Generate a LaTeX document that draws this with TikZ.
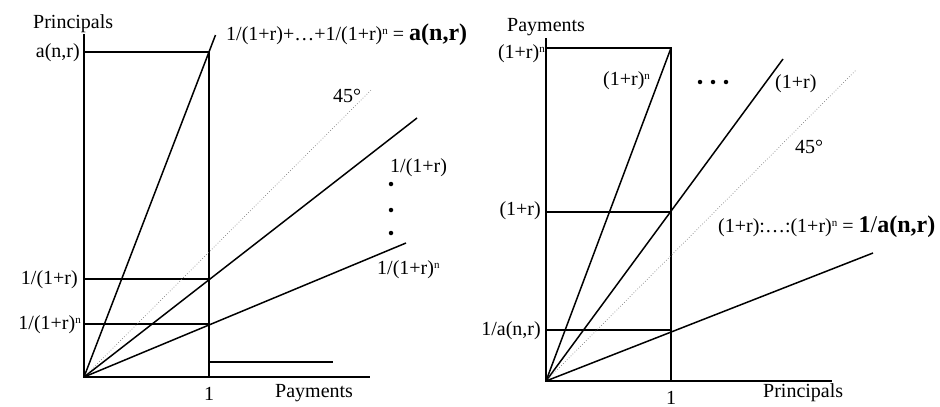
\documentclass[tikz,border=0pt]{standalone}
\usepackage{fontspec}
\setmainfont{Liberation Serif}
\newcommand{\nup}{\raisebox{0.55ex}{\fontsize{11}{11}\selectfont n}}
\newcommand{\bigb}[1]{{\fontsize{24}{26}\selectfont\bfseries #1}}
\tikzset{
  axis/.style={line width=1.7pt, black},
  ray/.style={line width=1.5pt, black},
  guide/.style={line width=1.5pt, black},
  diag/.style={line width=0.7pt, gray, dotted},
  lbl/.style={inner sep=0pt, font=\fontsize{20}{24}\selectfont},
  dotmark/.style={circle, fill=black, inner sep=0pt, minimum size=4.5pt}
}
\begin{document}
\begin{tikzpicture}[x=1pt,y=-1pt]
\useasboundingbox (0,0) rectangle (940,407);
% ---------- left diagram ----------
\coordinate (LO) at (84,377);
\coordinate (LYt) at (84,34);
\coordinate (LXr) at (370,377);
\coordinate (LA) at (209,52);
\coordinate (LAy) at (84,52);
\coordinate (L1) at (209,377);
\coordinate (LR) at (209,279);
\coordinate (LRy) at (84,279);
\coordinate (LN) at (209,324);
\coordinate (LNy) at (84,324);
\coordinate (LSteep) at (215.5,35);
\coordinate (L45) at (372,89);
\coordinate (LRend) at (417,118);
\coordinate (LNend) at (406,243);
\coordinate (LSa) at (208,362);
\coordinate (LSb) at (333,362);
\draw[axis] (LYt) -- (LO) -- (LXr);
\draw[guide] (LAy) -- (LA) -- (L1);
\draw[guide] (LRy) -- (LR);
\draw[guide] (LNy) -- (LN);
\draw[guide] (LSa) -- (LSb);
\draw[ray] (LO) -- (LSteep);
\draw[diag] (LO) -- (L45);
\draw[ray] (LO) -- (LRend);
\draw[ray] (LO) -- (LNend);
\node[lbl, anchor=base west] (lprin) at (33,28) {Principals};
\node[lbl, anchor=base east] (lay) at (80,57) {a(n,r)};
\node[lbl, anchor=base west] (lsum) at (226,40) {1/(1+r)+…+1/(1+r)\nup{} = \bigb{a(n,r)}};
\node[lbl, anchor=base west] (l45) at (333,102) {45°};
\node[lbl, anchor=base west] (lr) at (390,172) {1/(1+r)};
\node[dotmark] (ld1) at (391,184) {};
\node[dotmark] (ld2) at (391,210) {};
\node[dotmark] (ld3) at (391,233) {};
\node[lbl, anchor=base west] (lrn) at (377,274) {1/(1+r)\nup};
\node[lbl, anchor=base east] (lry) at (78,284) {1/(1+r)};
\node[lbl, anchor=base east] (lrny) at (81,329) {1/(1+r)\nup};
\node[lbl, anchor=base] (lone) at (209,400) {1};
\node[lbl, anchor=base west] (lpay) at (275,397) {Payments};
% ---------- right diagram ----------
\coordinate (RO) at (546,381);
\coordinate (RYt) at (546,38);
\coordinate (RXr) at (832,381);
\coordinate (RA) at (671,48);
\coordinate (RAy) at (546,48);
\coordinate (R1) at (671,381);
\coordinate (RR) at (671,212);
\coordinate (RRy) at (546,212);
\coordinate (RN) at (671,330);
\coordinate (RNy) at (546,330);
\coordinate (RRend) at (783,59);
\coordinate (R45) at (856,70);
\coordinate (RNend) at (873,253);
\draw[axis] (RYt) -- (RO) -- (RXr);
\draw[guide] (RAy) -- (RA) -- (R1);
\draw[guide] (RRy) -- (RR);
\draw[guide] (RNy) -- (RN);
\draw[ray] (RO) -- (RA);
\draw[ray] (RO) -- (RRend);
\draw[diag] (RO) -- (R45);
\draw[ray] (RO) -- (RNend);
\node[lbl, anchor=base west] (rpay) at (507,31) {Payments};
\node[lbl, anchor=base east] (rtop) at (545,58) {(1+r)\nup};
\node[lbl, anchor=base west] (rin) at (603,85) {(1+r)\nup};
\node[dotmark] (rd1) at (700,82) {};
\node[dotmark] (rd2) at (713,82) {};
\node[dotmark] (rd3) at (726,82) {};
\node[lbl, anchor=base west] (rr) at (775,88) {(1+r)};
\node[lbl, anchor=base west] (r45) at (795,153) {45°};
\node[lbl, anchor=base east] (rry) at (541,215) {(1+r)};
\node[lbl, anchor=base west] (rprod) at (718,232) {(1+r):…:(1+r)\nup{} = \bigb{1}{\fontsize{24}{26}\selectfont/}\bigb{a(n,r)}};
\node[lbl, anchor=base east] (rny) at (541,335) {1/a(n,r)};
\node[lbl, anchor=base west] (rprin) at (763,397) {Principals};
\node[lbl, anchor=base] (rone) at (671,404) {1};
\end{tikzpicture}
\end{document}
